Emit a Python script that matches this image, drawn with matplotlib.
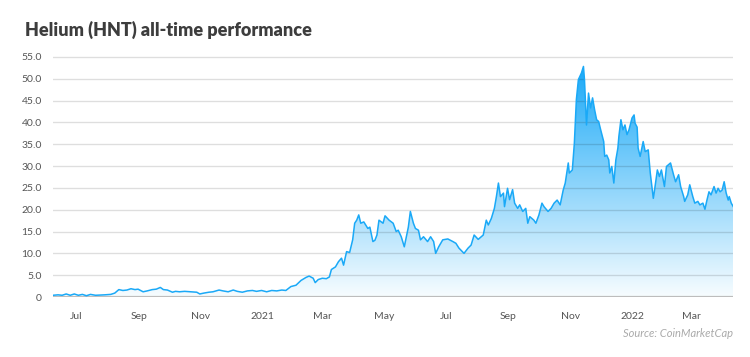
import numpy as np
import pandas as pd
import matplotlib
matplotlib.use('Agg')
import matplotlib.pyplot as plt
import matplotlib.dates as mdates
from matplotlib.colors import to_rgb

# HNT price (USD)
dates = [
    '2020-06-08', '2020-06-13', '2020-06-17', '2020-06-21', '2020-06-25', '2020-06-29',
    '2020-07-03', '2020-07-07', '2020-07-11', '2020-07-15', '2020-07-20', '2020-07-29',
    '2020-08-04', '2020-08-08', '2020-08-12', '2020-08-16', '2020-08-20', '2020-08-24',
    '2020-08-28', '2020-08-31', '2020-09-05', '2020-09-09', '2020-09-14', '2020-09-18',
    '2020-09-22', '2020-09-25', '2020-09-29', '2020-10-04', '2020-10-07', '2020-10-11',
    '2020-10-16', '2020-10-22', '2020-10-28', '2020-10-31', '2020-11-04', '2020-11-09',
    '2020-11-13', '2020-11-19', '2020-11-23', '2020-11-28', '2020-12-03', '2020-12-07',
    '2020-12-12', '2020-12-17', '2020-12-22', '2020-12-26', '2020-12-31', '2021-01-05',
    '2021-01-10', '2021-01-15', '2021-01-20', '2021-01-24', '2021-01-29', '2021-02-03',
    '2021-02-08', '2021-02-13', '2021-02-16', '2021-02-20', '2021-02-22', '2021-02-25',
    '2021-03-01', '2021-03-05', '2021-03-08', '2021-03-10', '2021-03-14', '2021-03-17',
    '2021-03-20', '2021-03-22', '2021-03-25', '2021-03-28', '2021-03-31', '2021-04-02',
    '2021-04-04', '2021-04-06', '2021-04-08', '2021-04-11', '2021-04-15', '2021-04-17',
    '2021-04-20', '2021-04-22', '2021-04-24', '2021-04-26', '2021-04-30', '2021-05-02',
    '2021-05-06', '2021-05-10', '2021-05-13', '2021-05-15', '2021-05-18', '2021-05-21',
    '2021-05-25', '2021-05-27', '2021-05-30', '2021-06-01', '2021-06-04', '2021-06-06',
    '2021-06-09', '2021-06-13', '2021-06-16', '2021-06-19', '2021-06-21', '2021-06-24',
    '2021-06-28', '2021-07-03', '2021-07-08', '2021-07-11', '2021-07-14', '2021-07-19',
    '2021-07-23', '2021-07-26', '2021-07-29', '2021-08-02', '2021-08-07', '2021-08-10',
    '2021-08-12', '2021-08-15', '2021-08-18', '2021-08-20', '2021-08-22', '2021-08-24',
    '2021-08-27', '2021-08-28', '2021-08-31', '2021-09-02', '2021-09-05', '2021-09-07',
    '2021-09-10', '2021-09-12', '2021-09-15', '2021-09-18', '2021-09-20', '2021-09-22',
    '2021-09-26', '2021-09-28', '2021-10-01', '2021-10-04', '2021-10-06', '2021-10-10',
    '2021-10-13', '2021-10-16', '2021-10-19', '2021-10-22', '2021-10-25', '2021-10-27',
    '2021-10-30', '2021-10-31', '2021-11-03', '2021-11-05', '2021-11-07', '2021-11-09',
    '2021-11-12', '2021-11-14', '2021-11-15', '2021-11-17', '2021-11-19', '2021-11-21',
    '2021-11-23', '2021-11-25', '2021-11-27', '2021-11-29', '2021-12-01', '2021-12-04',
    '2021-12-05', '2021-12-07', '2021-12-09', '2021-12-10', '2021-12-12', '2021-12-14',
    '2021-12-16', '2021-12-18', '2021-12-19', '2021-12-21', '2021-12-23', '2021-12-25',
    '2021-12-27', '2021-12-29', '2022-01-01', '2022-01-03', '2022-01-04', '2022-01-06',
    '2022-01-07', '2022-01-09', '2022-01-12', '2022-01-14', '2022-01-17', '2022-01-19',
    '2022-01-22', '2022-01-23', '2022-01-26', '2022-01-28', '2022-01-30', '2022-02-02',
    '2022-02-04', '2022-02-06', '2022-02-08', '2022-02-11', '2022-02-13', '2022-02-16',
    '2022-02-18', '2022-02-21', '2022-02-22', '2022-02-25', '2022-02-27', '2022-03-02',
    '2022-03-04', '2022-03-07', '2022-03-09', '2022-03-12', '2022-03-14', '2022-03-16',
    '2022-03-18', '2022-03-20', '2022-03-23', '2022-03-25', '2022-03-27', '2022-03-29',
    '2022-03-31', '2022-04-02', '2022-04-04', '2022-04-06', '2022-04-07', '2022-04-09',
    '2022-04-11',
]
prices = [
    0.4, 0.5, 0.4, 0.7, 0.4, 0.7,
    0.4, 0.6, 0.3, 0.6, 0.4, 0.5,
    0.6, 0.9, 1.7, 1.5, 1.6, 1.9,
    1.7, 1.8, 1.2, 1.4, 1.7, 1.8,
    2.2, 1.7, 1.6, 1.1, 1.3, 1.2,
    1.3, 1.2, 1.1, 0.7, 0.9, 1.1,
    1.2, 1.6, 1.4, 1.2, 1.6, 1.3,
    1.1, 1.4, 1.5, 1.3, 1.5, 1.2,
    1.5, 1.4, 1.6, 1.5, 2.4, 2.7,
    3.8, 4.5, 4.8, 4.3, 3.3, 4.0,
    4.3, 4.2, 4.6, 6.3, 6.9, 8.1,
    8.9, 7.3, 10.4, 10.2, 13.1, 16.9,
    17.6, 18.8, 16.9, 17.2, 15.7, 16.0,
    12.7, 13.0, 14.2, 17.6, 16.9, 18.6,
    17.6, 16.9, 15.0, 15.3, 13.8, 11.5,
    16.0, 19.6, 16.9, 15.7, 15.3, 13.1,
    13.8, 12.7, 13.8, 12.7, 10.0, 11.5,
    13.1, 13.3, 12.7, 12.3, 11.2, 10.0,
    11.2, 11.9, 14.2, 13.2, 14.2, 17.6,
    16.5, 18.0, 20.3, 23.0, 26.1, 23.0,
    23.8, 20.7, 24.9, 22.3, 24.6, 21.5,
    20.3, 21.1, 19.6, 20.3, 16.9, 18.4,
    17.6, 16.9, 18.8, 21.5, 20.7, 19.6,
    20.3, 21.5, 22.2, 21.1, 24.5, 26.1,
    30.7, 28.4, 29.1, 35.2, 45.2, 49.8,
    51.3, 52.8, 49.8, 39.4, 46.7, 43.3,
    45.6, 42.9, 40.6, 40.2, 38.3, 35.6,
    32.2, 32.5, 31.4, 28.4, 29.9, 26.1,
    31.4, 34.1, 36.8, 40.6, 38.3, 39.4,
    37.2, 38.3, 41.0, 41.7, 39.8, 38.9,
    34.1, 32.2, 35.6, 33.3, 33.7, 28.4,
    22.6, 24.1, 29.1, 27.6, 29.1, 25.3,
    29.9, 30.3, 30.7, 28.0, 26.4, 28.0,
    25.3, 23.0, 21.9, 23.4, 25.7, 23.0,
    21.5, 21.9, 21.1, 21.5, 20.1, 22.2,
    24.1, 23.4, 25.3, 23.8, 24.9, 24.1,
    24.5, 26.4, 23.8, 22.2, 23.0, 21.5,
    20.7,
]

y_ticks = [0, 5, 10, 15, 20, 25, 30, 35, 40, 45, 50, 55]
y_labels = ['0', '5.0', '10.0', '15.0', '20.0', '25.0', '30.0', '35.0', '40.0', '45.0', '50.0', '55.0']
x_ticks = ['2020-07-01', '2020-09-01', '2020-11-01', '2021-01-01', '2021-03-01', '2021-05-01',
           '2021-07-01', '2021-09-01', '2021-11-01', '2022-01-01', '2022-03-01']
x_labels = ['Jul', 'Sep', 'Nov', '2021', 'Mar', 'May', 'Jul', 'Sep', 'Nov', '2022', 'Mar']

plt.rcParams['font.family'] = ['Lato', 'DejaVu Sans']

x = pd.to_datetime(dates)
line_color = '#1aa9f7'

fig = plt.figure(figsize=(7.5, 3.57), dpi=100)
ax = fig.add_axes([0.0707, 0.168, 0.907, 0.685])

ax.set_xlim(x[0], x[-1])
ax.set_ylim(0, 56)

# gradient fill under the curve (white at 0 -> blue near the top)
top = 53.0
ys = np.linspace(0, 56, 300)
t = np.clip(ys / top, 0, 1)[:, None]
c = np.array(to_rgb(line_color))
white = np.array([0.97, 0.99, 1.0])
grad = white * (1 - t) + c * t
grad = grad[:, None, :]
xn = mdates.date2num(x)
img = ax.imshow(grad, aspect='auto', origin='lower',
                extent=[xn[0], xn[-1], 0, 56], zorder=1, interpolation='bilinear')
poly = ax.fill_between(x, prices, 0, facecolor='none', edgecolor='none')
img.set_clip_path(poly.get_paths()[0], transform=ax.transData)

# grid drawn semi-transparent so it shows through the fill
for yv in y_ticks[1:]:
    ax.axhline(yv, color='black', alpha=0.13, lw=1.0, zorder=2)
ax.axhline(0, color='#bdbdbd', lw=1.6, zorder=3)

ax.plot(x, prices, color=line_color, lw=1.1, zorder=4)

ax.set_yticks(y_ticks)
ax.set_yticklabels(y_labels)
ax.set_xticks(pd.to_datetime(x_ticks))
ax.set_xticklabels(x_labels)
ax.tick_params(length=0, labelsize=7.5, colors='#555555')
ax.tick_params(axis='x', pad=11)
ax.tick_params(axis='y', pad=8)
for s in ax.spines.values():
    s.set_visible(False)

fig.text(0.033, 0.90, 'Helium (HNT) all-time performance', fontsize=13, fontweight='heavy',
         color='#3d3d3d', ha='left', va='baseline')
fig.text(0.977, 0.055, 'Source: CoinMarketCap', fontsize=8, style='italic',
         color='#aaaaaa', ha='right', va='baseline')

fig.savefig('out.png', dpi=100)
